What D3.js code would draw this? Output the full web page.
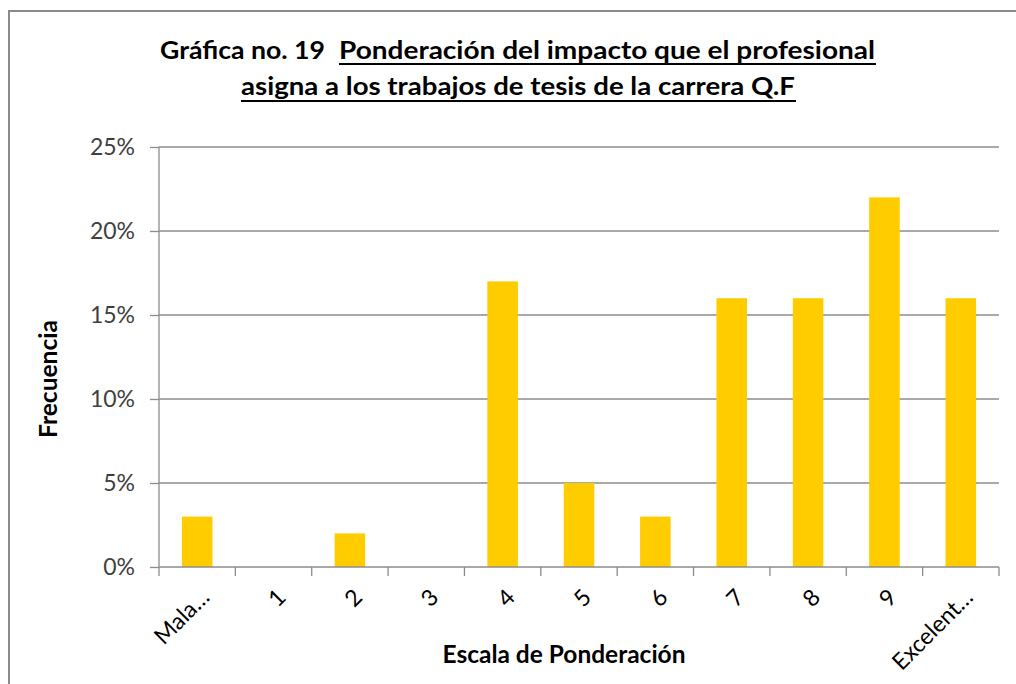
<!DOCTYPE html>
<html>
<head>
<meta charset="utf-8">
<script src="https://cdn.jsdelivr.net/npm/d3@7/dist/d3.min.js"></script>
<style>
  html, body { margin: 0; padding: 0; background: #fff; }
  svg { display: block; font-family: Lato, "Open Sans", sans-serif; }
</style>
</head>
<body>
<svg width="1016" height="684"></svg>
<script>
// Chart data
const categories = ["Mala…", "1", "2", "3", "4", "5", "6", "7", "8", "9", "Excelent…"];
const frecuencia = [3, 0, 2, 0, 17, 5, 3, 16, 16, 22, 16]; // percent
const yTicks = [0, 5, 10, 15, 20, 25];

const svg = d3.select("svg");

// outer chart border (runs off the right / bottom of the picture)
svg.append("rect")
  .attr("x", 9).attr("y", 11)
  .attr("width", 1030).attr("height", 700)
  .attr("fill", "none")
  .attr("stroke", "#8a8a8a")
  .attr("stroke-width", 2);

// plot area
const plotLeft = 159, plotRight = 999, plotTop = 147, plotBottom = 567;

const x = d3.scaleBand()
  .domain(categories)
  .range([plotLeft, plotRight])
  .paddingInner(0.6)
  .paddingOuter(0.3);

const y = d3.scaleLinear()
  .domain([0, 25])
  .range([plotBottom, plotTop]);

// gridlines
svg.append("g")
  .selectAll("line")
  .data(yTicks.filter(d => d > 0))
  .enter()
  .append("line")
  .attr("x1", plotLeft).attr("x2", plotRight)
  .attr("y1", d => y(d)).attr("y2", d => y(d))
  .attr("stroke", "#8c8c8c")
  .attr("stroke-width", 1.3);

// bars
svg.append("g")
  .selectAll("rect")
  .data(categories)
  .enter()
  .append("rect")
  .attr("x", d => x(d))
  .attr("width", x.bandwidth())
  .attr("y", (d, i) => y(frecuencia[i]))
  .attr("height", (d, i) => plotBottom - y(frecuencia[i]))
  .attr("fill", "#FFCC00");

// y axis
const yAxis = svg.append("g")
  .attr("transform", `translate(${plotLeft},0)`)
  .call(d3.axisLeft(y).tickValues(yTicks).tickSize(9).tickPadding(15).tickFormat(d => d + "%"));
yAxis.select(".domain").attr("stroke", "#8c8c8c").attr("stroke-width", 1.3).attr("d", `M0,${plotTop}V${plotBottom}`);
yAxis.selectAll(".tick line").attr("stroke", "#8c8c8c").attr("stroke-width", 1.3);
yAxis.selectAll(".tick text")
  .attr("fill", "#404040")
  .style("font-size", "23px")
  .style("font-family", "Lato, sans-serif");

// x axis: line and boundary ticks
const step = x.step();
const xb = svg.append("g");
xb.append("line")
  .attr("x1", plotLeft).attr("x2", plotRight)
  .attr("y1", plotBottom).attr("y2", plotBottom)
  .attr("stroke", "#8c8c8c").attr("stroke-width", 1.3);
xb.selectAll(".bt")
  .data(d3.range(categories.length + 1))
  .enter()
  .append("line")
  .attr("x1", i => plotLeft + i * step).attr("x2", i => plotLeft + i * step)
  .attr("y1", plotBottom).attr("y2", plotBottom + 9)
  .attr("stroke", "#8c8c8c").attr("stroke-width", 1.3);

// rotated category labels
svg.append("g")
  .selectAll("text")
  .data(categories)
  .enter()
  .append("text")
  .attr("transform", d => `translate(${x(d) + x.bandwidth() / 2 + 8},${plotBottom + 26}) rotate(-45)`)
  .attr("text-anchor", "end")
  .attr("dy", "0.35em")
  .attr("fill", "#000")
  .style("font-size", "23px")
  .text(d => d);

// axis titles
svg.append("text")
  .attr("transform", "translate(57,379) rotate(-90)")
  .attr("text-anchor", "middle")
  .attr("textLength", 118).attr("lengthAdjust", "spacingAndGlyphs")
  .style("font-size", "24px")
  .style("font-weight", "bold")
  .text("Frecuencia");

svg.append("text")
  .attr("x", 564).attr("y", 663)
  .attr("text-anchor", "middle")
  .attr("textLength", 243).attr("lengthAdjust", "spacingAndGlyphs")
  .style("font-size", "24px")
  .style("font-weight", "bold")
  .text("Escala de Ponderación");

// title
const title = svg.append("g").style("font-size", "24px").style("font-weight", "bold");
title.append("text")
  .attr("x", 160).attr("y", 59)
  .attr("textLength", 165).attr("lengthAdjust", "spacingAndGlyphs")
  .text("Gráfica no. 19");
title.append("text")
  .attr("x", 339).attr("y", 59)
  .attr("textLength", 536).attr("lengthAdjust", "spacingAndGlyphs")
  .text("Ponderación del impacto que el profesional");
title.append("text")
  .attr("x", 241).attr("y", 95)
  .attr("textLength", 554).attr("lengthAdjust", "spacingAndGlyphs")
  .text("asigna a los trabajos de tesis de la carrera Q.F");
title.append("line")
  .attr("x1", 339).attr("x2", 876).attr("y1", 64).attr("y2", 64)
  .attr("stroke", "#000").attr("stroke-width", 2);
title.append("line")
  .attr("x1", 241).attr("x2", 796).attr("y1", 101).attr("y2", 101)
  .attr("stroke", "#000").attr("stroke-width", 2);
</script>
</body>
</html>
